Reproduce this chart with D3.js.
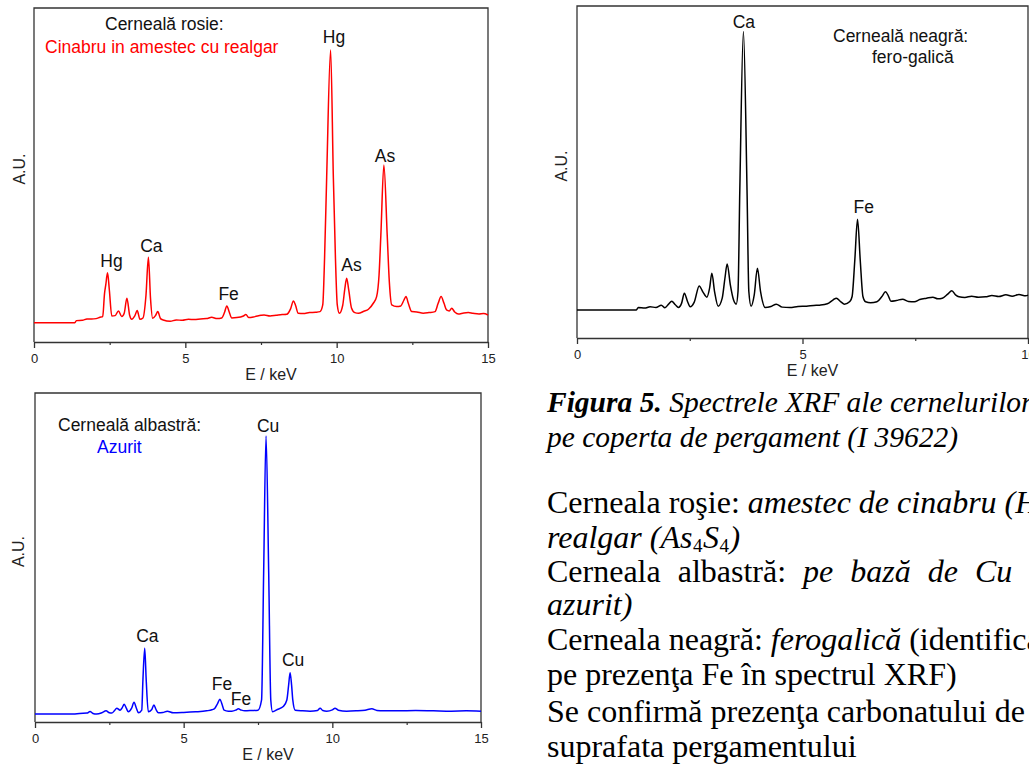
<!DOCTYPE html>
<html>
<head>
<meta charset="utf-8">
<script src="https://cdnjs.cloudflare.com/ajax/libs/d3/7.8.5/d3.min.js"></script>
<style>
  body { margin: 0; background: #fff; }
  svg { display: block; }
  .sans { font-family: "Liberation Sans", Arial, sans-serif; }
  .serif { font-family: "Liberation Serif", "Times New Roman", serif; }
</style>
</head>
<body>
<svg id="chart" width="1029" height="764"></svg>
<script>
// XRF spectra: [energy keV, intensity A.U.]
const redSpectrum = [
  [0, 5.8], [1.35, 5.8], [1.4, 6.4], [1.6, 6.5], [1.75, 6.9], [1.9, 6.9], [2.05, 7.0], [2.18, 7.4],
  [2.27, 7.6], [2.33, 14.5], [2.37, 17.0], [2.43, 20.7], [2.49, 15.5], [2.57, 7.8], [2.68, 7.9],
  [2.79, 9.3], [2.9, 7.6], [2.98, 8.6], [3.07, 13.1], [3.16, 8.0], [3.23, 6.8], [3.33, 7.8], [3.41, 9.4],
  [3.5, 6.8], [3.6, 7.2], [3.7, 14], [3.78, 25.4], [3.85, 13], [3.92, 7.1], [4.02, 8.0], [4.09, 9.1],
  [4.18, 7.0], [4.27, 6.6], [4.5, 6.2], [4.7, 6.6], [4.9, 6.5], [5.1, 6.8], [5.3, 6.7], [5.5, 6.9],
  [5.7, 7.0], [5.87, 7.4], [6.05, 7.0], [6.2, 7.2], [6.3, 9.0], [6.37, 10.8], [6.45, 9.0], [6.53, 7.2],
  [6.7, 7.3], [6.92, 7.8], [7.0, 8.2], [7.1, 7.3], [7.3, 7.6], [7.5, 8.0], [7.6, 8.1], [7.8, 7.8],
  [8.0, 8.0], [8.2, 8.2], [8.35, 8.3], [8.48, 10.0], [8.57, 12.3], [8.64, 11.0], [8.73, 8.6], [8.9, 8.5],
  [9.1, 8.8], [9.3, 8.9], [9.45, 9.1], [9.54, 11.1], [9.6, 25], [9.67, 49.4], [9.8, 87.4], [9.89, 49.4],
  [9.96, 25], [10.02, 11.1], [10.09, 8.6], [10.2, 11], [10.27, 16], [10.33, 19.1], [10.4, 15.5],
  [10.49, 10.2], [10.6, 8.8], [10.72, 8.6], [10.9, 9.2], [11.05, 9.8], [11.21, 11.6], [11.32, 13.6],
  [11.4, 20], [11.46, 32.0], [11.56, 53.0], [11.67, 32.0], [11.74, 18], [11.82, 11.1], [11.98, 10.6],
  [12.12, 10.8], [12.22, 12.5], [12.29, 13.6], [12.37, 11.5], [12.48, 9.1], [12.65, 9.0], [12.86, 8.6],
  [13.05, 8.8], [13.25, 9.1], [13.35, 11.5], [13.45, 13.6], [13.55, 11.5], [13.63, 9.6], [13.72, 9.3],
  [13.8, 10.1], [13.9, 9.0], [14.02, 8.4], [14.2, 8.7], [14.35, 8.8], [14.5, 8.6], [14.7, 8.4],
  [14.85, 8.5], [15, 8.1]
];

const blackSpectrum = [
  [0, 8.4], [1.31, 8.4], [1.36, 9.2], [1.5, 9.0], [1.62, 9.4], [1.75, 9.2], [1.87, 9.9], [1.95, 9.1],
  [2.03, 10.2], [2.1, 11.1], [2.18, 10.0], [2.25, 9.2], [2.32, 10.5], [2.38, 13.5], [2.45, 11.0],
  [2.51, 9.4], [2.6, 10.8], [2.71, 15.7], [2.79, 13.9], [2.88, 12.3], [2.94, 15], [2.99, 19.5],
  [3.05, 14], [3.13, 9.6], [3.22, 12], [3.28, 18], [3.33, 22.3], [3.4, 16], [3.47, 11.5], [3.53, 10.2],
  [3.57, 14], [3.61, 44.6], [3.69, 92.3], [3.77, 44.6], [3.81, 14], [3.86, 9.6], [3.93, 13], [4.0, 21.0],
  [4.07, 14], [4.17, 9.2], [4.3, 9.5], [4.42, 10.2], [4.55, 9.3], [4.72, 9.2], [4.9, 9.5], [5.09, 9.6],
  [5.25, 9.8], [5.38, 9.9], [5.55, 10.3], [5.68, 11.5], [5.75, 12.0], [5.85, 10.9], [5.93, 10.2],
  [6.05, 11.0], [6.1, 12.5], [6.16, 23.5], [6.22, 35.8], [6.28, 23.5], [6.34, 12.5], [6.4, 10.9],
  [6.51, 10.6], [6.65, 10.9], [6.76, 12.5], [6.84, 13.9], [6.9, 12.8], [6.96, 11.1], [7.08, 11.3],
  [7.22, 11.7], [7.35, 11.0], [7.48, 10.9], [7.6, 11.6], [7.75, 12.0], [7.89, 12.3], [8.0, 11.8],
  [8.1, 12.0], [8.22, 13.2], [8.31, 14.2], [8.4, 12.9], [8.47, 12.4], [8.6, 12.2], [8.75, 12.6],
  [8.9, 12.3], [9.06, 12.4], [9.2, 12.8], [9.35, 12.5], [9.51, 13.0], [9.65, 12.6], [9.8, 13.1],
  [9.95, 12.7], [10, 12.9]
];

const blueSpectrum = [
  [0, 2.4], [1.29, 2.4], [1.5, 2.6], [1.75, 2.7], [1.85, 3.2], [1.95, 2.6], [2.07, 2.4], [2.25, 2.8],
  [2.39, 3.4], [2.5, 2.8], [2.58, 2.7], [2.67, 3.4], [2.75, 4.2], [2.86, 3.6], [2.93, 4.3], [3.0, 5.4],
  [3.07, 4.2], [3.14, 3.1], [3.25, 4.2], [3.33, 6.0], [3.41, 4.2], [3.48, 2.8], [3.59, 3.6], [3.63, 12.8],
  [3.69, 22.4], [3.74, 12.8], [3.81, 3.1], [3.92, 3.7], [4.0, 5.2], [4.07, 3.8], [4.15, 2.8], [4.3, 2.9],
  [4.45, 3.3], [4.65, 2.8], [5.0, 2.9], [5.4, 3.1], [5.77, 3.4], [5.95, 3.7], [6.05, 4.2], [6.14, 5.6],
  [6.22, 6.9], [6.29, 5.4], [6.36, 3.6], [6.5, 3.3], [6.62, 3.3], [6.75, 3.6], [6.84, 4.0], [6.94, 3.6],
  [7.06, 3.4], [7.3, 3.5], [7.5, 3.6], [7.62, 6.7], [7.69, 45.3], [7.77, 86.9], [7.86, 45.3], [7.93, 6.7],
  [7.99, 3.1], [8.15, 3.8], [8.35, 4.7], [8.47, 6.7], [8.53, 11.2], [8.58, 15.0], [8.63, 11.2], [8.67, 6.7],
  [8.75, 3.6], [9.0, 3.4], [9.25, 3.3], [9.5, 3.5], [9.59, 4.2], [9.68, 3.5], [9.81, 3.3], [10.0, 3.7],
  [10.09, 4.2], [10.2, 3.6], [10.48, 3.3], [10.8, 3.4], [11.1, 3.6], [11.33, 4.0], [11.5, 3.5],
  [11.72, 3.4], [12.2, 3.4], [12.8, 3.5], [13.4, 3.4], [14.0, 3.3], [14.5, 3.4], [15, 3.3]
];

// peak labels: [element, energy of label centre, A.U. of label baseline]
const redPeaks = [["Hg", 9.91, 89.5], ["As", 11.6, 53.9], ["Hg", 2.56, 22.5], ["Ca", 3.88, 26.9], ["Fe", 6.43, 12.6], ["As", 10.49, 21.3]];
const blackPeaks = [["Ca", 3.7, 93.3], ["Fe", 6.36, 37.6]];
const bluePeaks = [["Cu", 7.84, 88.1], ["Ca", 3.78, 24.4], ["Fe", 6.29, 9.7], ["Fe", 6.93, 5.2], ["Cu", 8.68, 17.0]];

const ticks15 = [0, 5, 10, 15];
const minor15 = [2.5, 7.5, 12.5];
const ticks10 = [0, 5, 10];
const minor10 = [2.5, 7.5];

// caption (smaller) and body text next to the charts
const captionLines = [
  [["Figura 5.", "bi"], [" Spectrele XRF ale cernelurilor", "i"]],
  [["pe coperta de pergament (I 39622)", "i"]]
];
const bodyLines = [
  [["Cerneala roşie: ", "n"], ["amestec de cinabru (HgS) şi", "i"]],
  [["realgar (As", "i"], ["4", "sub"], ["S", "i"], ["4", "sub"], [")", "i"]],
  [["Cerneala albastră: ", "n"], ["pe bază de Cu (probabil", "i"]],
  [["azurit)", "i"]],
  [["Cerneala neagră: ", "n"], ["ferogalică", "i"], [" (identificată", "n"]],
  [["pe prezenţa Fe în spectrul XRF)", "n"]],
  [["Se confirmă prezenţa carbonatului de", "n"]],
  [["suprafata pergamentului", "n"]]
];
const captionBaselines = [412, 447];
const bodyBaselines = [513, 548, 582, 615, 650, 685, 722, 757];

const svg = d3.select("#chart");
svg.append("rect").attr("width", 1029).attr("height", 764).attr("fill", "#fff");

function drawPanel(p) {
  const g = svg.append("g").attr("class", "sans");
  const x = d3.scaleLinear().domain([0, p.xMax]).range([p.left, p.right]);
  const y = d3.scaleLinear().domain([0, 100]).range([p.bottom, p.top]);

  g.append("path")
    .attr("d", `M${p.left},${p.bottom}V${p.top}H${p.right}V${p.bottom}`)
    .attr("fill", "none").attr("stroke", "#333").attr("stroke-width", 1.3);

  const ax = g.append("g").attr("transform", `translate(0,${p.bottom})`)
    .call(d3.axisBottom(x).tickValues(p.ticks).tickSize(6).tickSizeOuter(0).tickPadding(6));
  ax.select(".domain").attr("stroke", "#333").attr("stroke-width", 1.3);
  ax.selectAll(".tick line").attr("stroke", "#333").attr("stroke-width", 1.3);
  ax.selectAll("text").attr("font-size", 13).attr("fill", "#222")
    .attr("font-family", "Liberation Sans, Arial, sans-serif");

  const mx = g.append("g").attr("transform", `translate(0,${p.bottom})`)
    .call(d3.axisBottom(x).tickValues(p.minor).tickSize(3).tickSizeOuter(0).tickFormat(""));
  mx.select(".domain").remove();
  mx.selectAll(".tick line").attr("stroke", "#333").attr("stroke-width", 1.2);

  g.append("text")
    .attr("x", (p.left + p.right) / 2 + 10).attr("y", p.bottom + 38)
    .attr("text-anchor", "middle").attr("font-size", 16).attr("fill", "#222")
    .text("E / keV");

  g.append("text")
    .attr("transform", `translate(${p.auX},${(p.top + p.bottom) / 2 - 6}) rotate(-90)`)
    .attr("text-anchor", "middle").attr("font-size", 16).attr("fill", "#222")
    .text("A.U.");

  g.append("path").datum(p.data)
    .attr("d", d3.line().x(d => x(d[0])).y(d => y(d[1])).curve(d3.curveMonotoneX))
    .attr("fill", "none").attr("stroke", p.color).attr("stroke-width", 1.5)
    .attr("stroke-linejoin", "round");

  g.selectAll(".peak").data(p.peaks).join("text")
    .attr("x", d => x(d[1])).attr("y", d => y(d[2]))
    .attr("text-anchor", "middle").attr("font-size", 17.5).attr("fill", "#111")
    .text(d => d[0]);

  p.titles.forEach(t => {
    g.append("text").attr("x", t.x).attr("y", t.y)
      .attr("font-size", 17.5).attr("fill", t.color).text(t.text);
  });
}

drawPanel({
  left: 34, right: 488, top: 8, bottom: 342, xMax: 15, ticks: ticks15, minor: minor15,
  data: redSpectrum, color: "#ff0000", peaks: redPeaks, auX: 25,
  titles: [
    { text: "Cerneală rosie:", x: 105, y: 30, color: "#111" },
    { text: "Cinabru in amestec cu realgar", x: 45, y: 53, color: "#ff0000" }
  ]
});

drawPanel({
  left: 577, right: 1028, top: 6, bottom: 338, xMax: 10, ticks: ticks10, minor: minor10,
  data: blackSpectrum, color: "#000", peaks: blackPeaks, auX: 567,
  titles: [
    { text: "Cerneală neagră:", x: 833, y: 42, color: "#111" },
    { text: "fero-galică", x: 872, y: 63, color: "#111" }
  ]
});

drawPanel({
  left: 35, right: 481, top: 393, bottom: 722, xMax: 15, ticks: ticks15, minor: minor15,
  data: blueSpectrum, color: "#0000ff", peaks: bluePeaks, auX: 24,
  titles: [
    { text: "Cerneală albastră:", x: 58, y: 431, color: "#111" },
    { text: "Azurit", x: 97, y: 453, color: "#0000ff" }
  ]
});

function writeLines(lines, baselines, size, subSize) {
  const g = svg.append("g").attr("class", "serif").attr("fill", "#000").attr("font-size", size);
  lines.forEach((segs, i) => {
    const t = g.append("text").attr("x", 547).attr("y", baselines[i]);
    if (segs[0][0].startsWith("Cerneala albastră")) t.attr("word-spacing", 9);
    segs.forEach(([s, style], j) => {
      const ts = t.append("tspan").text(s);
      if (style === "bi") ts.attr("font-weight", "bold").attr("font-style", "italic");
      if (style === "i") ts.attr("font-style", "italic");
      if (style === "sub") ts.attr("font-size", subSize).attr("dy", 4).attr("dx", 0.5);
      // back to the main baseline after a subscript
      if (j > 0 && segs[j - 1][1] === "sub") ts.attr("dy", -4).attr("dx", 0.5);
    });
  });
}
writeLines(captionLines, captionBaselines, 29.5, 18);
writeLines(bodyLines, bodyBaselines, 32, 19);
</script>
</body>
</html>
